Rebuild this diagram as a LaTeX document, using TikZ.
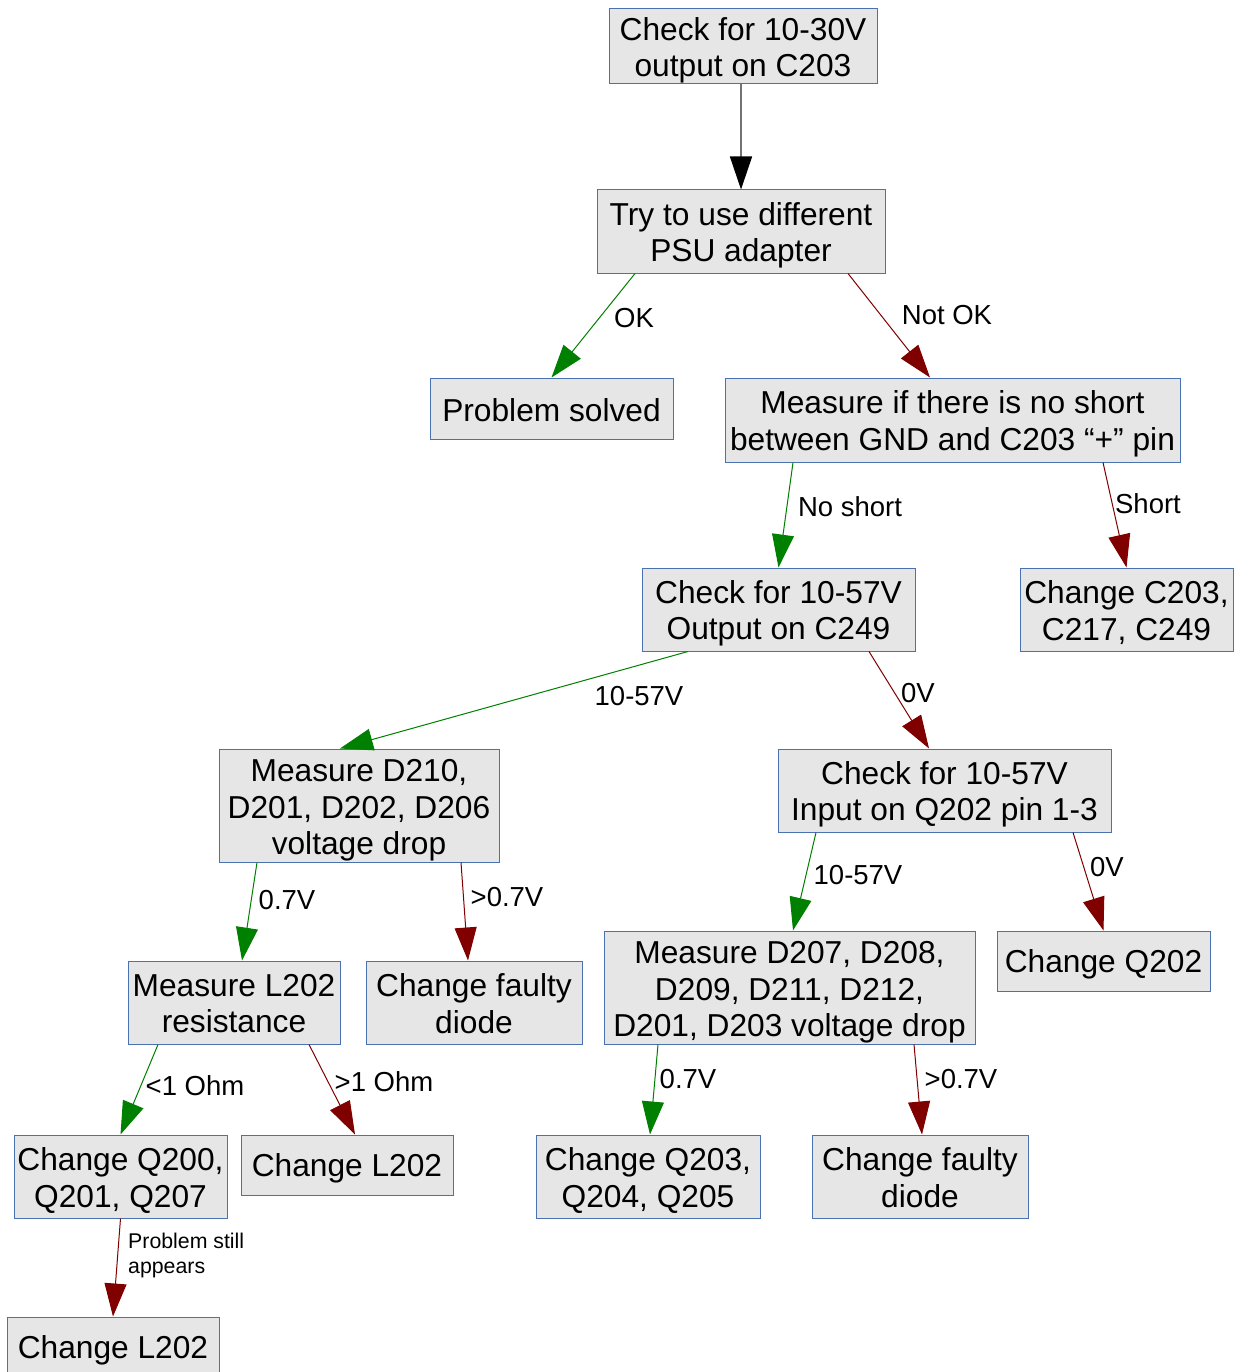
\documentclass[tikz,border=0pt]{standalone}
\usepackage{fontspec}
\setmainfont{Liberation Sans}
\usetikzlibrary{arrows.meta}
\definecolor{boxblue}{HTML}{4A72B0}
\definecolor{boxfill}{HTML}{E6E6E6}
\definecolor{okgreen}{HTML}{008000}
\definecolor{nored}{HTML}{800000}
\tikzset{
  box/.style={draw=boxblue, fill=boxfill, line width=1pt, inner sep=0pt},
  boxtext/.style={align=center, inner sep=0pt, font=\fontsize{31.7}{36.5}\selectfont},
  lbl/.style={font=\fontsize{27.5}{32}\selectfont, inner sep=0pt},
  yesarrow/.style={draw=okgreen, line width=1pt, -{Triangle[length=33pt,width=22pt,color=okgreen,fill=okgreen]}},
  noarrow/.style={draw=nored, line width=1pt, -{Triangle[length=33pt,width=22pt,color=nored,fill=nored]}},
  plainarrow/.style={draw=black!55, line width=1.5pt, -{Triangle[length=33pt,width=22pt,color=black,fill=black]}}
}
\begin{document}
\begin{tikzpicture}[x=1pt,y=-1pt]
\useasboundingbox (0,0) rectangle (1237,1372);
\fill[white] (0,0) rectangle (1237,1372);

\node[box, minimum width=268pt, minimum height=75pt, label={[boxtext,yshift=-4pt]center:{Check for 10-30V\\output on C203}}] (A) at (743,46.5) {};
\node[box, minimum width=288pt, minimum height=83pt, label={[boxtext,yshift=-4pt]center:{Try to use different\\PSU adapter}}] (B) at (741,231.5) {};
\node[box, minimum width=243pt, minimum height=61pt, label={[boxtext,yshift=-2pt]center:{Problem solved}}] (PS) at (551.5,408.5) {};
\node[box, minimum width=455pt, minimum height=84pt, label={[boxtext,yshift=-4pt]center:{Measure if there is no short\\between GND and C203 “+” pin}}] (M) at (952.5,420) {};
\node[box, minimum width=273pt, minimum height=83pt, label={[boxtext,yshift=-4pt]center:{Check for 10-57V\\Output on C249}}] (C249) at (778.5,609.5) {};
\node[box, minimum width=213pt, minimum height=83pt, label={[boxtext,yshift=-3pt]center:{Change C203,\\C217, C249}}] (CC) at (1126.5,609.5) {};
\node[box, minimum width=280pt, minimum height=113pt, label={[boxtext,yshift=-5pt]center:{Measure D210,\\D201, D202, D206\\voltage drop}}] (D210) at (359,805.5) {};
\node[box, minimum width=333pt, minimum height=83pt, label={[boxtext,yshift=-4pt]center:{Check for 10-57V\\Input on Q202 pin 1-3}}] (QIN) at (944.5,790.5) {};
\node[box, minimum width=212pt, minimum height=83pt, label={[boxtext,yshift=-1pt]center:{Measure L202\\resistance}}] (LM) at (234,1002.5) {};
\node[box, minimum width=216pt, minimum height=83pt, label={[boxtext,yshift=-1pt]center:{Change faulty\\diode}}] (FL) at (474,1002.5) {};
\node[box, minimum width=371pt, minimum height=113pt, label={[boxtext,yshift=-5pt]center:{Measure D207, D208,\\D209, D211, D212,\\D201, D203 voltage drop}}] (D207) at (789.5,987.5) {};
\node[box, minimum width=213pt, minimum height=60pt, label={[boxtext,yshift=-3pt]center:{Change Q202}}] (CQ) at (1103.5,961) {};
\node[box, minimum width=213pt, minimum height=83pt, label={[boxtext,yshift=-4pt]center:{Change Q200,\\Q201, Q207}}] (Q200) at (120.5,1176.5) {};
\node[box, minimum width=212pt, minimum height=60pt, label={[boxtext,yshift=-3.5pt]center:{Change L202}}] (CL) at (347,1165) {};
\node[box, minimum width=224pt, minimum height=83pt, label={[boxtext,yshift=-4pt]center:{Change Q203,\\Q204, Q205}}] (Q203) at (648,1176.5) {};
\node[box, minimum width=216pt, minimum height=83pt, label={[boxtext,yshift=-1pt]center:{Change faulty\\diode}}] (FR) at (920,1176.5) {};
\node[box, minimum width=212pt, minimum height=61pt, label={[boxtext,yshift=-3pt]center:{Change L202}}] (LB) at (113,1347.5) {};

\draw[plainarrow] ([xshift=-2pt]A.south) -- (B.north);
\draw[yesarrow] ([xshift=-106pt]B.south) -- (PS.north);
\draw[noarrow] ([xshift=107pt]B.south) -- ([xshift=-22.5pt]M.north);
\draw[yesarrow] ([xshift=-159.5pt]M.south) -- (C249.north);
\draw[noarrow] ([xshift=150.5pt]M.south) -- (CC.north);
\draw[yesarrow] ([xshift=-90.5pt]C249.south) -- ([xshift=-19pt]D210.north);
\draw[noarrow] ([xshift=90.5pt]C249.south) -- ([xshift=-15.5pt]QIN.north);
\draw[yesarrow] ([xshift=-102pt]D210.south) -- ([xshift=8pt]LM.north);
\draw[noarrow] ([xshift=102pt]D210.south) -- ([xshift=-6pt]FL.north);
\draw[yesarrow] ([xshift=-128.5pt]QIN.south) -- ([xshift=3.5pt]D207.north);
\draw[noarrow] ([xshift=128.5pt]QIN.south) -- (CQ.north);
\draw[yesarrow] ([xshift=-76pt]LM.south) -- (Q200.north);
\draw[noarrow] ([xshift=75pt]LM.south) -- ([xshift=8pt]CL.north);
\draw[yesarrow] ([xshift=-131.5pt]D207.south) -- ([xshift=2pt]Q203.north);
\draw[noarrow] ([xshift=124.5pt]D207.south) -- ([xshift=2pt]FR.north);
\draw[noarrow] (Q200.south) -- (LB.north);

\node[lbl] (l1) at (634,318) {OK};
\node[lbl] (l2) at (947,315) {Not OK};
\node[lbl] (l3) at (850,507) {No short};
\node[lbl] (l4) at (1148,504) {Short};
\node[lbl] (l5) at (639,696) {10-57V};
\node[lbl] (l6) at (918,693) {0V};
\node[lbl] (l7) at (287,900) {0.7V};
\node[lbl] (l8) at (507,897) {>0.7V};
\node[lbl] (l9) at (858,875) {10-57V};
\node[lbl] (l10) at (1107,867) {0V};
\node[lbl] (l11) at (195,1086) {<1 Ohm};
\node[lbl] (l12) at (384,1082) {>1 Ohm};
\node[lbl] (l13) at (688,1079) {0.7V};
\node[lbl] (l14) at (961,1079) {>0.7V};
\node[inner sep=0pt, anchor=west, align=left, font=\fontsize{21.3}{25}\selectfont] (l15) at (128,1255) {Problem still\\appears};
\end{tikzpicture}
\end{document}
